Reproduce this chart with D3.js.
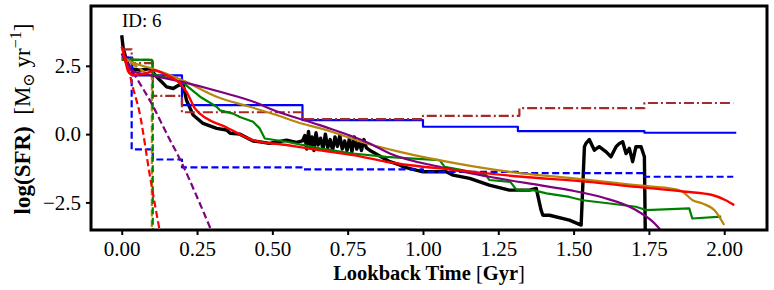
<!DOCTYPE html>
<html>
<head>
<meta charset="utf-8">
<script src="https://cdn.jsdelivr.net/npm/d3@7"></script>
<style>
body { margin: 0; background: #fff; }
svg { display: block; }
text { font-family: "Liberation Serif", "DejaVu Serif", serif; }
</style>
</head>
<body>
<svg width="774" height="290"></svg>
<script>
// lookback time [Gyr] and log(SFR)
var xTicks = [0, 0.25, 0.5, 0.75, 1.0, 1.25, 1.5, 1.75, 2.0];
var yTicks = [-2.5, 0, 2.5];

var blackT = [0, 0.005, 0.017, 0.028, 0.06, 0.094, 0.116, 0.149, 0.171, 0.19, 0.204, 0.215, 0.237, 0.27, 0.315, 0.348, 0.36, 0.392, 0.436, 0.47, 0.49, 0.52, 0.547, 0.58, 0.6,
  0.608, 0.614, 0.62, 0.626, 0.632, 0.638, 0.645, 0.652, 0.66, 0.668, 0.676, 0.684, 0.692, 0.7, 0.708, 0.716, 0.724, 0.732, 0.74, 0.748, 0.756, 0.764, 0.772, 0.78, 0.788, 0.796, 0.804, 0.812,
  0.823, 0.89, 0.923, 0.934, 1.0, 1.077, 1.1, 1.155, 1.22, 1.287, 1.353, 1.376, 1.392, 1.398, 1.42, 1.486, 1.525,
  1.536, 1.541, 1.552, 1.569, 1.585, 1.608, 1.624, 1.641, 1.652, 1.663, 1.674, 1.685, 1.696, 1.707, 1.724, 1.735, 1.738];
var blackV = [3.62, 3.14, 2.65, 2.4, 2.34, 2.4, 2.1, 1.73, 1.67, 1.8, 1.8, 1.24, 0.7, 0.39, 0.21, 0.15, 0.03, 0.0, -0.25, -0.3, -0.34, -0.28, -0.22, -0.3, -0.25,
  -0.05, -0.55, 0.1, -0.45, -0.1, -0.6, 0.05, -0.4, -0.15, -0.55, 0.0, -0.5, -0.2, -0.6, -0.1, -0.45, -0.05, -0.55, -0.25, -0.6, -0.15, -0.65, -0.1, -0.55, -0.3, -0.6, -0.2, -0.5,
  -0.59, -1.01, -1.13, -1.2, -1.38, -1.38, -1.5, -1.62, -1.87, -2.05, -2.05, -1.99, -2.78, -2.97, -2.97, -3.15, -3.33,
  -0.46, -0.34, -0.2, -0.59, -0.46, -0.65, -0.83, -0.46, -0.34, -0.28, -0.71, -0.52, -1.01, -0.46, -0.46, -0.83, -3.7];

var blueT = [0, 0.035, 0.2, 0.6, 1.0, 1.315, 1.735, 2.04];
var blueV = [2.8, 2.15, 1.06, 0.51, 0.27, 0.11, 0.05, 0.05];

var blueDashT = [0, 0.033, 0.103, 0.2, 0.6, 1.0, 1.315, 1.735, 2.03];
var blueDashV = [2.8, -0.56, -0.93, -1.22, -1.29, -1.38, -1.43, -1.56, -1.56];

var brownT = [0, 0.033, 0.103, 0.2, 0.6, 1.0, 1.32, 1.735, 2.03];
var brownV = [3.1, 2.6, 1.4, 0.8, 0.55, 0.67, 0.95, 1.14, 1.14];

var greenT = [0, 0.1, 0.104, 0.2, 0.26, 0.315, 0.326, 0.37, 0.392, 0.436, 0.458, 0.475, 0.547, 0.657, 0.767, 0.878, 0.956, 1.055, 1.072, 1.13, 1.21, 1.22, 1.29, 1.31, 1.365, 1.41, 1.486, 1.53, 1.62, 1.707, 1.74, 1.884, 1.894, 1.99];
var greenV = [2.73, 2.72, 2.2, 1.91, 1.37, 1.0, 0.87, 0.75, 0.63, 0.45, 0.21, -0.16, -0.28, -0.52, -0.71, -0.83, -0.89, -0.95, -1.2, -1.32, -1.5, -1.68, -1.75, -2.03, -2.05, -2.17, -2.3, -2.42, -2.54, -2.66, -2.78, -2.72, -3.09, -3.02];

var greenDashT = [0, 0.103, 0.103];
var greenDashV = [2.72, 2.72, -3.7];

var goldT = [0, 0.04, 0.1, 0.2, 0.315, 0.425, 0.514, 0.6, 0.657, 0.7, 0.8, 0.923, 1.11, 1.33, 1.486, 1.707, 1.84, 1.862, 1.895, 1.928, 1.972, 2.0];
var goldV = [2.83, 2.6, 2.4, 1.98, 1.37, 1.0, 0.7, 0.38, 0.22, 0.08, -0.3, -0.65, -1.07, -1.44, -1.6, -1.87, -2.02, -2.11, -2.42, -2.54, -2.84, -3.33];

var goldDashT = [0, 0.03, 0.085, 0.1, 0.1];
var goldDashV = [2.75, 2.62, 2.2, 2.1, -3.7];

var purpleT = [0, 0.02, 0.038, 0.094, 0.2, 0.326, 0.453, 0.49, 0.657, 0.823, 0.89, 1.055, 1.22, 1.387, 1.486, 1.597, 1.707, 1.78, 1.8];
var purpleV = [2.95, 2.5, 2.3, 2.16, 1.91, 1.55, 1.12, 0.94, 0.33, -0.34, -0.71, -1.2, -1.56, -1.87, -2.05, -2.32, -2.78, -3.4, -3.7];

var purpleDashT = [0, 0.05, 0.1, 0.15, 0.2, 0.25, 0.3];
var purpleDashV = [2.95, 2.04, 1.1, 0.0, -1.07, -2.3, -3.6];

var redT = [0, 0.01, 0.022, 0.038, 0.07, 0.094, 0.105, 0.149, 0.193, 0.215, 0.243, 0.282, 0.315, 0.337, 0.37, 0.436, 0.547, 0.657, 0.768, 0.878, 1.11, 1.33, 1.55, 1.707, 1.873, 1.96, 2.005, 2.033];
var redV = [3.2, 2.77, 2.28, 2.16, 2.2, 2.28, 2.34, 2.16, 1.86, 1.55, 0.94, 0.57, 0.39, 0.3, 0.12, -0.22, -0.4, -0.59, -0.77, -1.01, -1.32, -1.56, -1.75, -1.93, -2.11, -2.23, -2.42, -2.6];

var redDashT = [0, 0.015, 0.038, 0.058, 0.094, 0.127];
var redDashV = [3.2, 2.7, 1.67, 0.85, -1.56, -3.6];

var svg = d3.select("svg");
var plotL = 91, plotR = 767, plotT = 6, plotB = 230;

var x = d3.scaleLinear().domain([-0.102, 2.142]).range([plotL, plotR]);
var y = d3.scaleLinear().domain([-3.51, 4.69]).range([plotB, plotT]);

svg.append("clipPath").attr("id", "plot")
  .append("rect").attr("x", plotL).attr("y", plotT).attr("width", plotR - plotL).attr("height", plotB - plotT);

var series = [
  {t: blackT, v: blackV, color: "#000000", w: 3.4},
  {t: blueT, v: blueV, color: "#0000ff", w: 2.2, step: true},
  {t: blueDashT, v: blueDashV, color: "#0000ff", w: 2.2, step: true, dash: "7,3.5"},
  {t: brownT, v: brownV, color: "#a52a2a", w: 2.2, step: true, dash: "10,3,2,3"},
  {t: greenT, v: greenV, color: "#008000", w: 2.2},
  {t: goldDashT, v: goldDashV, color: "#b8860b", w: 2.2, dash: "7,3.5"},
  {t: greenDashT, v: greenDashV, color: "#008000", w: 2.2, dash: "7,3.5"},
  {t: goldT, v: goldV, color: "#b8860b", w: 2.2, curve: true},
  {t: purpleT, v: purpleV, color: "#800080", w: 2.2, curve: true},
  {t: purpleDashT, v: purpleDashV, color: "#800080", w: 2.2, dash: "7,3.5", curve: true},
  {t: redT, v: redV, color: "#ff0000", w: 2.4, curve: true},
  {t: redDashT, v: redDashV, color: "#ff0000", w: 2.2, dash: "7,3.5", curve: true}
];

var g = svg.append("g").attr("clip-path", "url(#plot)");

series.forEach(function(s) {
  var pts = s.t.map(function(t, i) { return [t, s.v[i]]; });
  var line = d3.line()
    .x(function(d) { return x(d[0]); })
    .y(function(d) { return y(d[1]); })
    .curve(s.step ? d3.curveStepAfter : (s.curve ? d3.curveMonotoneX : d3.curveLinear));
  g.append("path")
    .attr("d", line(pts))
    .attr("fill", "none")
    .attr("stroke", s.color)
    .attr("stroke-width", s.w)
    .attr("stroke-linejoin", "round")
    .attr("stroke-dasharray", s.dash || null);
});

// axes
var xAxis = svg.append("g").attr("transform", "translate(0," + plotB + ")")
  .call(d3.axisBottom(x).tickValues(xTicks).tickFormat(d3.format(".2f")).tickSize(5).tickPadding(6).tickSizeOuter(0));
var yAxis = svg.append("g").attr("transform", "translate(" + plotL + ",0)")
  .call(d3.axisLeft(y).tickValues(yTicks).tickFormat(d3.format(".1f")).tickSize(5).tickPadding(5).tickSizeOuter(0));

[xAxis, yAxis].forEach(function(a) {
  a.select(".domain").remove();
  a.selectAll(".tick line").attr("stroke", "#000").attr("stroke-width", 2);
  a.selectAll(".tick text").attr("font-size", 21).attr("fill", "#000")
    .style("font-family", '"Liberation Serif", serif');
});

svg.append("rect")
  .attr("x", plotL).attr("y", plotT).attr("width", plotR - plotL).attr("height", plotB - plotT)
  .attr("fill", "none").attr("stroke", "#000").attr("stroke-width", 3);

svg.append("text").attr("x", 122).attr("y", 27).attr("font-size", 19).text("ID: 6");

var xl = svg.append("text").attr("x", (plotL + plotR) / 2).attr("y", 280)
  .attr("text-anchor", "middle").attr("font-size", 20.5);
xl.append("tspan").attr("font-weight", "bold").text("Lookback Time ");
xl.append("tspan").text("[");
xl.append("tspan").attr("font-weight", "bold").text("Gyr");
xl.append("tspan").text("]");

var yl = svg.append("text").attr("transform", "translate(30," + ((plotT + plotB) / 2 + 1) + ") rotate(-90)")
  .attr("text-anchor", "middle").attr("font-size", 23);
yl.append("tspan").attr("font-weight", "bold").text("log(SFR)");
yl.append("tspan").text("\u2002[M");
yl.append("tspan").attr("font-size", 16).attr("dy", 4).text("\u2299");
yl.append("tspan").attr("dy", -4).text(" yr");
yl.append("tspan").attr("font-size", 16).attr("dy", -9).text("\u22121");
yl.append("tspan").attr("dy", 9).text("]");
</script>
</body>
</html>
